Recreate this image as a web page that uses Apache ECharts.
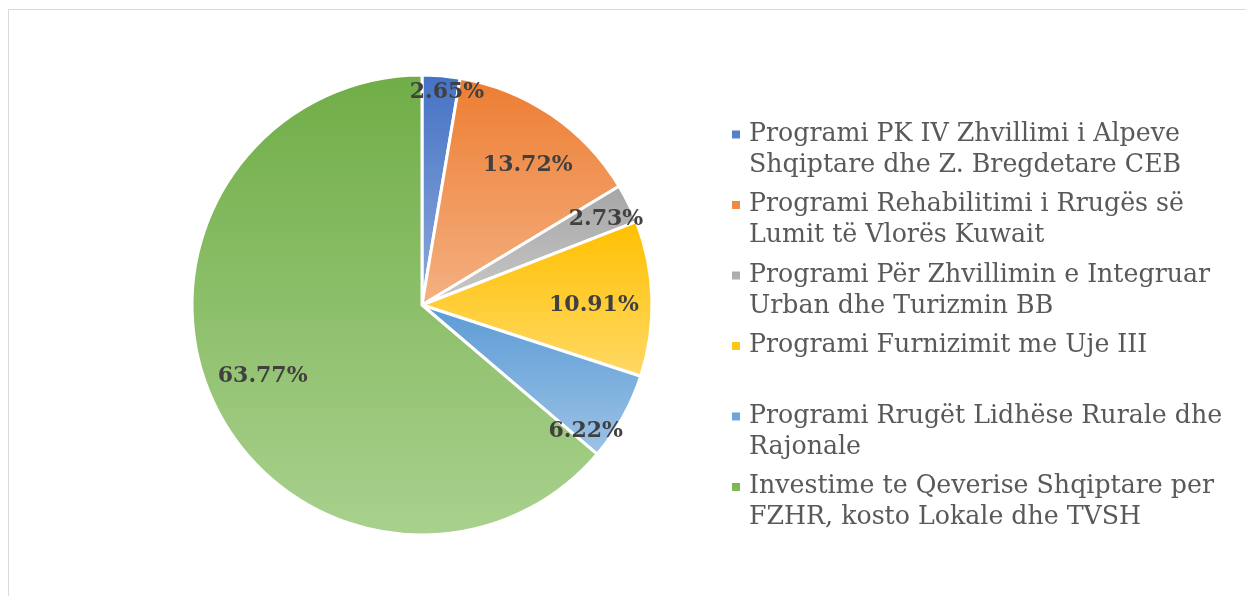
<!DOCTYPE html>
<html>
<head>
<meta charset="utf-8">
<script src="https://cdn.jsdelivr.net/npm/echarts@6/dist/echarts.min.js"></script>
<style>
  html, body { margin: 0; padding: 0; background: #fff; }
  #chartmain { width: 1246px; height: 596px; }
</style>
</head>
<body>
<div id="chartmain"></div>
<script>
// te dhenat (perqindjet e lexuara nga grafiku)
var categories = [
    'Programi PK IV Zhvillimi i Alpeve Shqiptare dhe Z. Bregdetare CEB',
    'Programi Rehabilitimi i Rrugës së Lumit të Vlorës Kuwait',
    'Programi Për Zhvillimin e Integruar Urban dhe Turizmin BB',
    'Programi Furnizimit me Uje III',
    'Programi Rrugët Lidhëse Rurale dhe Rajonale',
    'Investime te Qeverise Shqiptare per FZHR, kosto Lokale dhe TVSH'
];
var legendLines = [
    'Programi PK IV Zhvillimi i Alpeve\nShqiptare dhe Z. Bregdetare CEB',
    'Programi Rehabilitimi i Rrugës së\nLumit të Vlorës Kuwait',
    'Programi Për Zhvillimin e Integruar\nUrban dhe Turizmin BB',
    'Programi Furnizimit me Uje III\n ',
    'Programi Rrugët Lidhëse Rurale dhe\nRajonale',
    'Investime te Qeverise Shqiptare per\nFZHR, kosto Lokale dhe TVSH'
];
var values = [2.65, 13.72, 2.73, 10.91, 6.22, 63.77];

// ngjyrat (gradient nga lart poshte)
var topColors = ['#4472c4', '#ed7d31', '#a5a5a5', '#ffc000', '#5b9bd5', '#70ad47'];
var bottomColors = ['#8faadc', '#f4b183', '#c9c9c9', '#ffd966', '#9dc3e6', '#a9d18e'];
// etiketat e vogla vendosen me afer buzes
var smallSlice = [true, false, true, false, true, false];
// zhvendosje e vogel e etiketave si ne Excel (px)
var labelDx = [7.5, 7, -4.5, -3.5, -19.5, 0];
var labelDy = [-3.5, 5, 6.5, 5, 24, -2];

var myChart = echarts.init(document.getElementById('chartmain'));

function grad(i) {
    return new echarts.graphic.LinearGradient(0, 0, 0, 1, [
        { offset: 0, color: topColors[i] },
        { offset: 1, color: bottomColors[i] }
    ]);
}

var mainData = values.map(function (v, i) {
    return { name: categories[i], value: v, itemStyle: { color: grad(i) } };
});
function labelData(showSmall) {
    return values.map(function (v, i) {
        var dx = labelDx[i], dy = labelDy[i];
        return {
            name: categories[i],
            value: v,
            label: {
                show: smallSlice[i] === showSmall,
                padding: [0, dx < 0 ? -2 * dx : 0, 0, dx > 0 ? 2 * dx : 0],
                lineHeight: Math.max(2 * Math.abs(dy), 1)
            }
        };
    });
}

var labelStyle = {
    position: 'inside',
    formatter: function (p) {
        var t = p.value.toFixed(2) + '%';
        var dy = labelDy[p.dataIndex];
        if (dy > 0) return ' \n' + t;
        if (dy < 0) return t + '\n ';
        return t;
    },
    color: '#404040',
    fontFamily: 'DejaVu Serif',
    fontWeight: 'bold',
    fontSize: 22
};

var option = {
    animation: false,
    backgroundColor: '#fff',
    graphic: [{
        type: 'rect',
        shape: { x: 8.5, y: 9.5, width: 1300, height: 700 },
        style: { fill: 'none', stroke: '#d9d9d9', lineWidth: 1 },
        silent: true
    }],
    legend: {
        orient: 'vertical',
        left: 732,
        top: 118.5,
        padding: 0,
        itemWidth: 12,
        itemHeight: 62,
        itemGap: 8.5,
        icon: 'path://M0,12h8v8h-8Z M0,0h12 M0,62h12',
        itemStyle: { borderWidth: 0 },
        data: categories,
        formatter: function (name) { return legendLines[categories.indexOf(name)]; },
        textStyle: {
            fontFamily: 'DejaVu Serif',
            fontSize: 25.25,
            lineHeight: 31,
            color: '#595959'
        }
    },
    series: [
        {
            name: 'main',
            type: 'pie',
            center: [422, 305],
            radius: [0, 230],
            startAngle: 90,
            label: { show: false },
            labelLine: { show: false },
            itemStyle: { borderColor: '#fff', borderWidth: 3 },
            emphasis: { disabled: true },
            data: mainData
        },
        {
            name: 'labelsBig',
            type: 'pie',
            silent: true,
            center: [422, 305],
            radius: [115, 230],
            startAngle: 90,
            itemStyle: { color: 'transparent' },
            label: labelStyle,
            labelLine: { show: false },
            data: labelData(false)
        },
        {
            name: 'labelsSmall',
            type: 'pie',
            silent: true,
            center: [422, 305],
            radius: [184, 230],
            startAngle: 90,
            itemStyle: { color: 'transparent' },
            label: labelStyle,
            labelLine: { show: false },
            data: labelData(true)
        }
    ]
};

myChart.setOption(option);
window.addEventListener('resize', function () {
    myChart.resize();
});
</script>
</body>
</html>
